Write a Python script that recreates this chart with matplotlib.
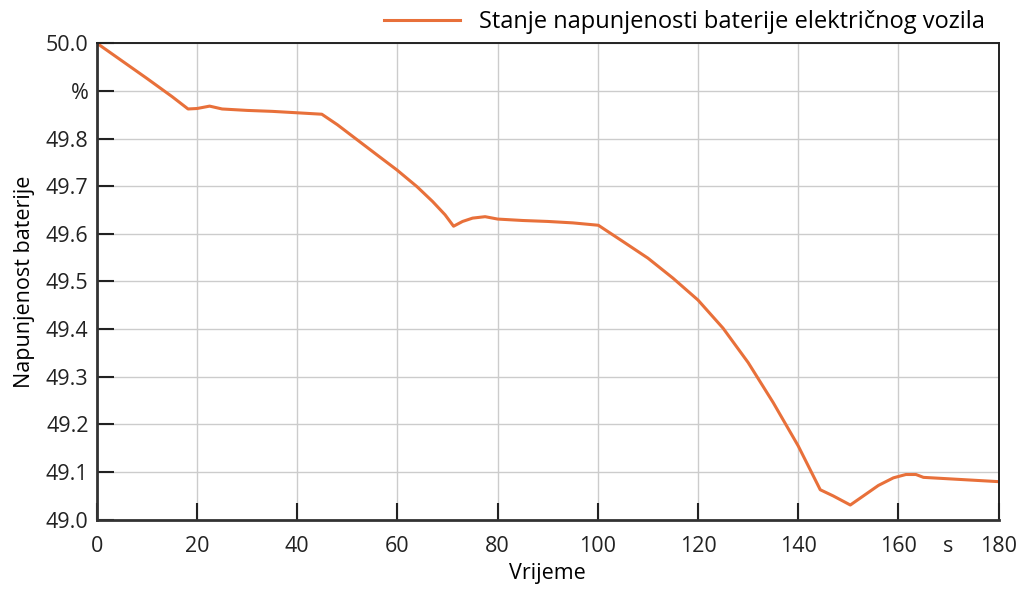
import matplotlib
matplotlib.use("Agg")
import matplotlib.pyplot as plt

plt.rcParams["font.family"] = ["Open Sans", "DejaVu Sans"]

# Battery state of charge over time
time_s = [0, 5, 10, 15, 18.2, 20, 22.5, 25, 30, 35, 40, 44.9, 48, 52.5, 56,
          59.9, 63.9, 67, 69.5, 71.2, 73, 75, 77.5, 80, 85, 90, 95, 100.1,
          105, 110, 115, 120, 125, 130, 135, 140, 144.4,
          147, 150.4, 153, 156, 159, 161.5, 163.5, 165, 170, 175, 180]
soc = [50.0, 49.963, 49.926, 49.888, 49.862, 49.863, 49.868, 49.862, 49.859,
       49.857, 49.854, 49.851, 49.829, 49.793, 49.765, 49.734, 49.699,
       49.668, 49.640, 49.616, 49.626, 49.633, 49.636, 49.631, 49.628,
       49.626, 49.623, 49.618, 49.584, 49.549, 49.507, 49.461, 49.402,
       49.330, 49.246, 49.155, 49.063, 49.050, 49.031, 49.050, 49.072,
       49.088, 49.095, 49.095, 49.089, 49.086, 49.083, 49.080]

x_ticks = [0, 20, 40, 60, 80, 100, 120, 140, 160, 170, 180]
x_labels = ["0", "20", "40", "60", "80", "100", "120", "140", "160", "s", "180"]
y_ticks = [49.0, 49.1, 49.2, 49.3, 49.4, 49.5, 49.6, 49.7, 49.8, 49.9, 50.0]
y_labels = ["49.0", "49.1", "49.2", "49.3", "49.4", "49.5", "49.6", "49.7",
            "49.8", "%", "50.0"]
series_label = "Stanje napunjenosti baterije električnog vozila"

fs = 15.5

fig = plt.figure(figsize=(10.2, 5.92), dpi=100)
ax = fig.add_axes([0.095, 0.122, 0.884, 0.805])

ax.plot(time_s, soc, color="#E8703A", lw=2.2, label=series_label)

ax.set_xlim(0, 180)
ax.set_ylim(49.0, 50.0)
ax.set_xticks(x_ticks)
ax.set_xticklabels(x_labels)
ax.set_yticks(y_ticks)
ax.set_yticklabels(y_labels)
ax.tick_params(direction="in", length=12, width=1.5, labelsize=fs,
               colors="#222222", pad=6)
ax.tick_params(axis="x", pad=12)
ax.grid(True, color="#cccccc", lw=1)
ax.set_axisbelow(True)

# the "s" unit sits at 170 without tick mark or grid line
s_tick = ax.xaxis.get_major_ticks()[x_ticks.index(170)]
s_tick.tick1line.set_visible(False)
s_tick.tick2line.set_visible(False)
s_tick.gridline.set_visible(False)

for side in ["left", "bottom"]:
    ax.spines[side].set_linewidth(2)
    ax.spines[side].set_color("#333333")
for side in ["top", "right"]:
    ax.spines[side].set_linewidth(1.4)
    ax.spines[side].set_color("#222222")

ax.set_xlabel("Vrijeme", fontsize=fs, labelpad=4)
ax.set_ylabel("Napunjenost baterije", fontsize=fs, labelpad=8)

ax.legend(loc="lower right", bbox_to_anchor=(0.995, 1.0), frameon=False,
          fontsize=17, handlelength=3.2, handletextpad=0.8,
          borderaxespad=0.0)

fig.savefig("out.png", dpi=100)
